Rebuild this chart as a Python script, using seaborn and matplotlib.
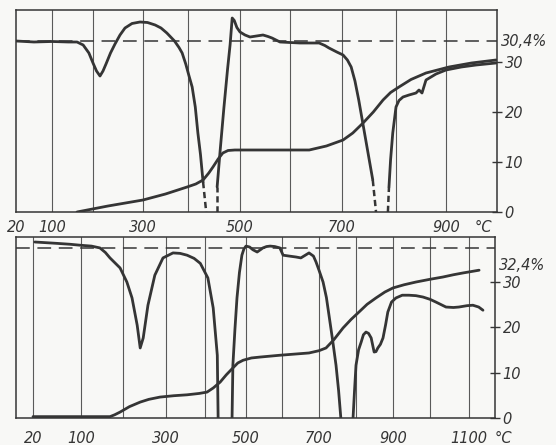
import numpy as np
import pandas as pd
import matplotlib
matplotlib.use("Agg")
import matplotlib.pyplot as plt
import seaborn as sns

# temperature axis of the scanned thermogram is not linear: gridline positions (px) per °C
top_T_anchor = [20, 100, 200, 300, 400, 500, 600, 700, 800, 900, 1000]
top_px_anchor = [16, 52, 93, 143, 188, 240, 290, 342, 396, 446, 497]
bot_T_anchor = [0, 20, 100, 200, 300, 400, 500, 600, 700, 800, 900, 1000, 1100, 1167]
bot_px_anchor = [16, 33, 81, 123, 166, 205, 246, 282, 319, 356, 393, 430, 469, 495]

# ---- upper sample (30,4 %) ----
top_dta = [
    ([20, 60, 100, 140, 161, 176, 190, 200, 207, 214, 220, 226, 235, 244, 254, 264, 278, 294,
      310, 327, 340, 353, 370, 380, 387, 395, 402, 408, 414, 419, 424, 429],
     [34.2, 34.0, 34.1, 34.0, 34.0, 33.4, 31.8, 29.8, 28.2, 27.2, 28.2, 29.6, 31.8, 33.6, 35.4,
      36.8, 37.7, 38.0, 37.9, 37.4, 36.8, 35.8, 34.2, 32.9, 31.8, 29.6, 27.2, 25.0, 21.0, 15.8,
      11.5, 6.0]),
    ([456, 462, 469, 476, 481, 485, 489, 494, 500, 510, 520, 533, 546, 556, 564, 580, 619, 640,
      656, 667, 675, 690, 702, 710, 717, 724, 731, 744, 757],
     [5.0, 12.5, 20.8, 28.5, 33.5, 38.8, 38.3, 36.9, 36.0, 35.4, 35.0, 35.2, 35.4, 35.1, 34.8,
      34.0, 33.8, 33.8, 33.8, 33.3, 32.8, 32.0, 31.4, 30.4, 29.0, 26.2, 22.4, 14.4, 6.4]),
    ([787, 790, 794, 800, 806, 814, 826, 840, 846, 852, 860, 880, 900, 930, 959, 998],
     [5.0, 10.5, 15.8, 21.0, 22.3, 23.0, 23.4, 23.8, 24.4, 23.8, 26.4, 27.6, 28.4, 29.0, 29.4, 29.8]),
]
top_dta_dash_T = [[429, 435], [456, 456], [757, 763], [785, 787]]
top_dta_dash_v = [[6.0, 0], [0, 5.0], [6.4, 0], [0, 5.0]]

top_tg_T = [161, 230, 300, 350, 398, 415, 429, 440, 448, 458, 467, 477, 490, 540, 580, 637,
            670, 702, 720, 739, 758, 776, 790, 806, 830, 860, 906, 950, 998]
top_tg_v = [0, 1.2, 2.4, 3.6, 5.0, 5.6, 6.4, 7.8, 9.0, 10.6, 11.8, 12.3, 12.4, 12.4, 12.4, 12.4,
            13.2, 14.4, 15.8, 17.8, 20.0, 22.4, 23.9, 25.0, 26.5, 27.8, 29.0, 29.8, 30.4]

# ---- lower sample (32,4 %) ----
bot_dta = [
    ([23, 60, 82, 98, 125, 145, 158, 169, 193, 209, 221, 233, 240, 247, 258, 274, 293, 318, 336,
      354, 372, 388, 407, 420, 430, 432],
     [38.7, 38.4, 38.2, 38.0, 37.8, 37.4, 36.4, 35.2, 33.0, 29.9, 26.4, 20.4, 15.4, 17.6, 24.8,
      31.4, 35.2, 36.3, 36.2, 35.8, 35.1, 34.0, 30.8, 24.2, 13.8, 0]),
    ([466, 468, 473, 478, 484, 490, 495, 500, 510, 519, 531, 540, 547, 557, 567, 580, 594, 603,
      620, 638, 651, 663, 673, 685, 692, 700, 711, 720, 727, 737, 746, 753, 759],
     [0, 11.6, 19.5, 26.4, 32.0, 35.8, 37.2, 37.8, 37.6, 37.0, 36.5, 37.0, 37.4, 37.7, 37.8, 37.7,
      37.4, 35.8, 35.6, 35.4, 35.2, 35.8, 36.3, 35.6, 34.3, 32.5, 29.9, 26.5, 22.6, 17.0, 11.6,
      6.0, 0]),
    ([792, 796, 800, 807, 814, 820, 827, 834, 841, 849, 854, 859, 866, 873, 880, 886, 896, 908,
      925, 943, 962, 981, 1000, 1015, 1041, 1060, 1074, 1095, 1110, 1125, 1136],
     [0, 6.0, 11.6, 15.0, 16.7, 18.3, 18.9, 18.6, 17.6, 14.5, 14.6, 15.4, 16.2, 17.6, 20.5, 23.3,
      25.5, 26.4, 27.0, 27.0, 26.9, 26.6, 26.1, 25.5, 24.4, 24.3, 24.4, 24.7, 24.8, 24.4, 23.7]),
]
bot_tg_T = [20, 169, 180, 193, 215, 240, 260, 286, 320, 354, 385, 405, 420, 437, 452, 468, 480,
            493, 515, 539, 594, 673, 700, 719, 740, 765, 787, 808, 830, 854, 878, 900, 930, 962,
            1000, 1033, 1060, 1085, 1126]
bot_tg_v = [0.3, 0.3, 0.7, 1.3, 2.5, 3.5, 4.1, 4.6, 4.9, 5.1, 5.4, 5.7, 6.6, 7.9, 9.5, 11.0, 12.1,
            12.7, 13.2, 13.4, 13.8, 14.3, 14.8, 15.4, 17.2, 19.8, 21.7, 23.3, 25.0, 26.4, 27.7,
            28.6, 29.3, 29.9, 30.5, 31.0, 31.5, 31.9, 32.5]

top_grid = [100, 200, 300, 400, 500, 600, 700, 800, 900]
bot_grid = [20, 100, 200, 300, 400, 500, 600, 700, 800, 900, 1000, 1100]
top_xlabels = [20, 100, 300, 500, 700, 900]
bot_xlabels = [20, 100, 300, 500, 700, 900, 1100]
y_ticks = [0, 10, 20, 30]

INK = "#353535"
GRID = "#5a5a5a"
PAPER = "#f8f8f6"

sns.set_style("white")
plt.rcParams["font.family"] = ["DejaVu Sans"]

fig = plt.figure(figsize=(5.56, 4.45), dpi=100, facecolor=PAPER)
ax1 = fig.add_axes([0.02878, 0.5236, 0.8651, 0.45393])
ax2 = fig.add_axes([0.02878, 0.06067, 0.86151, 0.40674])


def style_panel(ax, T_anc, px_anc, xlim, ylim, grid, xlabels, pad, total, total_txt, base, degx):
    ax.set_facecolor(PAPER)
    ax.set_xscale("function", functions=(lambda t: np.interp(t, T_anc, px_anc),
                                         lambda p: np.interp(p, px_anc, T_anc)))
    ax.set_xlim(*xlim)
    ax.set_ylim(*ylim)
    for g in grid:
        ax.axvline(g, color=GRID, lw=0.8, zorder=1)
    ax.axhline(base, color=INK, lw=1.1, ls=(0, (9, 5)), zorder=2)
    for s in ax.spines.values():
        s.set_color(INK)
        s.set_linewidth(1.1)
    ax.set_xticks(xlabels)
    ax.set_xticklabels([str(v) for v in xlabels], style="italic", fontsize=10.5, color=INK)
    ax.tick_params(axis="x", length=0, pad=pad)
    ax.yaxis.tick_right()
    ax.set_yticks(y_ticks)
    ax.set_yticklabels([str(v) for v in y_ticks], style="italic", fontsize=10.5, color=INK)
    ax.tick_params(axis="y", direction="inout", length=7, width=1.0, color=INK, pad=2)
    ax.text(1.008, total, total_txt, transform=ax.get_yaxis_transform(),
            style="italic", fontsize=10.5, color=INK, va="center", ha="left")
    ax.annotate("°C", xy=(degx, 0), xycoords="axes fraction", xytext=(0, -pad),
                textcoords="offset points", ha="center", va="top", style="italic",
                fontsize=10.5, color=INK, annotation_clip=False)
    ax.set_xlabel("")
    ax.set_ylabel("")


# curves
for T, v in top_dta:
    sns.lineplot(x=T, y=v, ax=ax1, color=INK, lw=2.0, sort=False, zorder=3)
for T, v in zip(top_dta_dash_T, top_dta_dash_v):
    ax1.plot(T, v, color=INK, lw=1.8, ls=(0, (2.5, 1.5)), zorder=3)
sns.lineplot(x=top_tg_T, y=top_tg_v, ax=ax1, color=INK, lw=2.0, sort=False, zorder=3)

for T, v in bot_dta:
    sns.lineplot(x=T, y=v, ax=ax2, color=INK, lw=2.0, sort=False, zorder=3)
sns.lineplot(x=bot_tg_T, y=bot_tg_v, ax=ax2, color=INK, lw=2.0, sort=False, zorder=3)

style_panel(ax1, top_T_anchor, top_px_anchor, (20, 1000), (0, 40.4), top_grid,
            top_xlabels, 6, 34.0, "30,4%", 34.2, 0.971)
style_panel(ax2, bot_T_anchor, bot_px_anchor, (0, 1167), (0, 39.8), bot_grid,
            bot_xlabels, 9, 33.6, "32,4%", 37.4, 1.017)

fig.savefig("out.png", dpi=100, facecolor=PAPER)
